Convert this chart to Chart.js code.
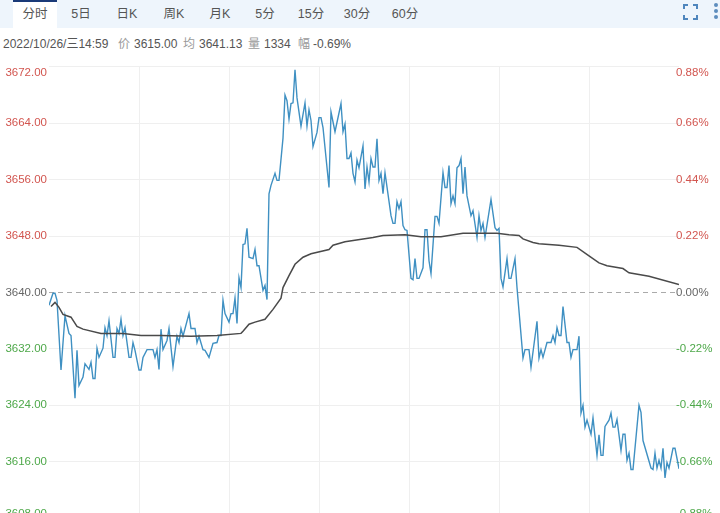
<!DOCTYPE html>
<html lang="zh">
<head>
<meta charset="UTF-8" />
<title>分时</title>
<script src="https://cdn.jsdelivr.net/npm/chart.js"></script>
<style>
  html, body { margin: 0; padding: 0; background: #fff; overflow: hidden; }
  #page {
    position: relative; width: 720px; height: 513px; overflow: hidden;
    font-family: "Liberation Sans", "Noto Sans CJK SC", sans-serif; color: #555;
  }
  #tabs { position: absolute; left: 0; top: 0; width: 720px; height: 28px; background: #eef5fc; }
  #active { position: absolute; left: 13px; top: 0; width: 44px; height: 28px; background: #fff; border-top: 2px solid #1a3a78; box-sizing: border-box; }
  .tab { position: absolute; top: 6px; font-size: 12.5px; line-height: 16px; transform: translateX(-50%); white-space: nowrap; }
  .info { position: absolute; top: 36px; font-size: 12px; line-height: 16px; white-space: nowrap; }
  .gray { color: #999; }
  #full { position: absolute; left: 683px; top: 4px; width: 15px; height: 16px; }
  .dot { position: absolute; left: 714px; width: 4px; height: 4px; border-radius: 2px; background: #5d8dbd; }
  canvas { position: absolute; left: 0; top: 57px; }
</style>
</head>
<body>
<div id="page">
  <div id="tabs"><div id="active"></div></div>
  <svg id="full" viewBox="0 0 15 16" fill="none" stroke="#4f86bd" stroke-width="2">
    <path d="M1 5V1H5M10 1H14V5M14 11V15H10M5 15H1V11" />
  </svg>
  <div class="dot" style="top: 3px"></div>
  <div class="dot" style="top: 9px"></div>
  <div class="dot" style="top: 15px"></div>
  <canvas id="chart" width="720" height="471"></canvas>
</div>
<script>
  const tabNames = ["分时", "5日", "日K", "周K", "月K", "5分", "15分", "30分", "60分"];
  const tabCenters = [35, 81, 127, 174, 220, 265, 311, 357, 405];
  const infoTexts = ["2022/10/26/三14:59", "价", "3615.00", "均", "3641.13", "量", "1334", "幅", "-0.69%"];
  const infoLefts = [3, 118, 134, 183, 199, 248, 264, 298, 313];

  const basePrice = 3640;
  const priceTicks = [3608, 3616, 3624, 3632, 3640, 3648, 3656, 3664, 3672];
  const percentTicks = [-0.88, -0.66, -0.44, -0.22, 0, 0.22, 0.44, 0.66, 0.88];
  const sampleCount = 315;
  const sampleTicks = [45, 90, 135, 180, 225, 270];

  // last price: sample number and value at each turn of the line
  const priceSamples = [
    0, 2, 3, 4, 6, 8, 10, 11, 13, 14, 15, 17, 18, 20, 21, 22, 23, 24, 25, 27, 28, 29, 30, 32, 33,
    34, 35, 36, 37, 38, 40, 41, 42, 43, 45, 46, 47, 49, 52, 53, 54, 55, 56, 57, 59, 60, 62, 64, 65,
    66, 67, 70, 71, 73, 74, 75, 77, 78, 80, 82, 84, 85, 86, 87, 88, 90, 91, 92, 93, 94, 95, 96, 97,
    98, 99, 100, 102, 103, 104, 105, 107, 108, 109, 110, 111, 113, 114, 115, 117, 118, 119, 120,
    121, 122, 123, 124, 126, 128, 129, 130, 131, 132, 134, 135, 136, 137, 140, 141, 143, 146, 147,
    148, 149, 150, 151, 152, 153, 154, 155, 157, 158, 159, 160, 161, 162, 163, 164, 165, 166, 167,
    168, 171, 172, 173, 174, 175, 176, 177, 178, 179, 181, 182, 183, 184, 185, 187, 188, 189, 190,
    191, 193, 194, 195, 197, 198, 199, 200, 201, 202, 203, 204, 205, 206, 207, 208, 209, 211, 212,
    214, 215, 216, 217, 218, 221, 223, 224, 225, 226, 227, 229, 230, 231, 233, 234, 237, 238, 240,
    241, 244, 245, 246, 247, 249, 251, 252, 253, 254, 255, 256, 257, 259, 260, 261, 262, 264, 265,
    266, 267, 268, 269, 271, 272, 274, 275, 276, 277, 278, 280, 281, 282, 283, 284, 286, 287, 288,
    289, 290, 291, 292, 295, 296, 297, 301, 302, 303, 304, 305, 306, 307, 308, 309, 310, 312, 313, 315
  ];
  const priceValues = [
    3638.2, 3639.9, 3639.9, 3638.9, 3629.0, 3636.7, 3634.2, 3633.9, 3625.0, 3631.8, 3626.8, 3628.0,
    3629.9, 3629.1, 3630.1, 3627.8, 3627.8, 3632.1, 3630.8, 3632.1, 3635.0, 3633.9, 3636.0, 3630.8,
    3630.8, 3634.9, 3634.2, 3636.2, 3633.9, 3635.0, 3630.8, 3630.8, 3632.9, 3631.8, 3629.0, 3629.0,
    3630.8, 3631.9, 3631.9, 3630.8, 3631.9, 3629.1, 3634.8, 3631.9, 3633.2, 3634.9, 3629.5, 3633.8,
    3632.9, 3634.9, 3633.8, 3637.0, 3634.9, 3634.9, 3632.9, 3633.8, 3631.9, 3631.8, 3630.8, 3632.8,
    3632.9, 3633.9, 3633.9, 3638.9, 3637.0, 3635.8, 3637.0, 3637.0, 3639.2, 3635.6, 3642.1, 3640.7,
    3646.8, 3646.9, 3649.1, 3645.0, 3644.8, 3646.1, 3643.8, 3643.8, 3640.3, 3641.0, 3639.0, 3654.0,
    3655.2, 3656.9, 3655.9, 3655.9, 3661.9, 3668.0, 3667.2, 3664.6, 3666.8, 3666.9, 3671.6, 3667.6,
    3663.6, 3666.9, 3663.6, 3665.9, 3664.4, 3660.7, 3662.7, 3664.8, 3664.8, 3663.4, 3654.9, 3665.6,
    3662.8, 3666.8, 3662.8, 3663.9, 3659.0, 3659.0, 3659.8, 3656.9, 3655.7, 3658.8, 3657.7, 3660.8,
    3654.7, 3657.8, 3655.7, 3659.0, 3657.8, 3657.8, 3661.8, 3655.9, 3656.9, 3654.0, 3657.0, 3650.9,
    3649.8, 3649.8, 3652.9, 3651.9, 3652.9, 3649.5, 3648.9, 3648.8, 3642.0, 3641.8, 3644.8, 3642.0,
    3642.0, 3643.5, 3648.9, 3648.9, 3644.5, 3642.7, 3650.8, 3650.8, 3649.8, 3657.0, 3654.9, 3654.9,
    3658.0, 3652.6, 3653.7, 3652.6, 3657.7, 3658.0, 3659.0, 3654.0, 3657.8, 3653.7, 3650.9, 3651.6,
    3647.8, 3650.9, 3648.8, 3649.8, 3647.8, 3653.2, 3649.2, 3648.8, 3649.1, 3642.0, 3640.8, 3644.8,
    3642.0, 3642.0, 3644.8, 3640.7, 3630.7, 3631.9, 3631.9, 3629.4, 3635.9, 3630.7, 3631.9, 3630.8,
    3632.9, 3632.9, 3633.9, 3632.9, 3635.0, 3633.9, 3633.9, 3638.0, 3632.9, 3632.9, 3630.8, 3631.9,
    3631.9, 3633.8, 3622.9, 3624.0, 3620.9, 3621.9, 3619.9, 3622.2, 3616.9, 3619.8, 3616.9, 3616.9,
    3621.0, 3621.9, 3622.9, 3620.9, 3620.9, 3622.0, 3617.6, 3619.9, 3619.9, 3616.2, 3617.2, 3614.9,
    3614.9, 3624.0, 3623.0, 3619.0, 3615.1, 3614.9, 3617.2, 3615.1, 3616.2, 3615.1, 3617.9, 3613.7,
    3615.9, 3615.1, 3617.9, 3617.9, 3615.0
  ];

  // running average price
  const avgSamples = [
    1, 3, 5, 7, 11, 14, 17, 26, 37, 46, 56, 71, 84, 96, 97, 100, 103, 108, 112, 116, 117, 120, 123,
    127, 131, 140, 142, 148, 162, 167, 178, 186, 196, 207, 224, 230, 235, 237, 242, 245, 255, 264,
    270, 275, 279, 287, 290, 300, 315
  ];
  const avgValues = [
    3638.0, 3638.6, 3637.9, 3636.9, 3636.5, 3635.2, 3634.8, 3634.2, 3634.2, 3633.9, 3633.9, 3633.8,
    3633.9, 3634.2, 3634.5, 3635.5, 3635.8, 3636.2, 3637.6, 3639.2, 3640.7, 3642.4, 3644.0, 3645.0,
    3645.5, 3646.1, 3646.7, 3647.2, 3647.8, 3648.1, 3648.2, 3647.9, 3647.9, 3648.4, 3648.4, 3648.2,
    3648.1, 3647.6, 3647.1, 3646.9, 3646.7, 3646.4, 3645.2, 3644.2, 3643.8, 3643.4, 3642.8, 3642.3,
    3641.13
  ];

  const page = document.getElementById("page");
  tabNames.forEach((name, i) => {
    const el = document.createElement("div");
    el.className = "tab";
    el.style.left = tabCenters[i] + "px";
    el.innerText = name;
    page.appendChild(el);
  });
  infoTexts.forEach((text, i) => {
    const el = document.createElement("div");
    el.className = text.length === 1 ? "info gray" : "info";
    el.style.left = infoLefts[i] + "px";
    el.innerText = text;
    page.appendChild(el);
  });

  const red = "#d2554f";
  const green = "#4ea84a";
  const neutral = "#666";
  const axisFont = { family: "'Liberation Sans', sans-serif", size: 11.5 };

  function upDownColor(value, middle) {
    if (value > middle) return red;
    if (value < middle) return green;
    return neutral;
  }

  // the outer labels sit inside the plot instead of centred on their grid lines,
  // and the percent labels start just left of the plot's right edge
  const edgeLabels = {
    id: "edgeLabels",
    beforeDraw(chart) {
      const area = chart.chartArea;
      [chart.scales.y, chart.scales.pct].forEach((scale) => {
        scale.getLabelItems().forEach((item) => {
          const t = item.options.translation;
          t[1] = Math.min(Math.max(t[1], area.top + 6), area.bottom - 4);
          if (scale.id === "pct") {
            item.options.textAlign = "left";
            t[0] = area.right - 3;
          }
        });
      });
    },
  };

  new Chart(document.getElementById("chart"), {
    type: "line",
    data: {
      datasets: [
        {
          data: avgSamples.map((s, i) => ({ x: s, y: avgValues[i] })),
          borderColor: "#4a4a4a",
          borderWidth: 1.5,
          pointRadius: 0,
          tension: 0,
          order: 1,
        },
        {
          data: priceSamples.map((s, i) => ({ x: s, y: priceValues[i] })),
          borderColor: "#3f90c2",
          borderWidth: 1.4,
          pointRadius: 0,
          tension: 0,
          order: 2,
        },
      ],
    },
    options: {
      responsive: false,
      animation: false,
      layout: { padding: { top: 9, bottom: 4 } },
      plugins: { legend: { display: false }, tooltip: { enabled: false } },
      scales: {
        x: {
          type: "linear",
          min: 0,
          max: sampleCount,
          afterBuildTicks: (scale) => {
            scale.ticks = sampleTicks.map((value) => ({ value }));
          },
          afterFit: (scale) => {
            scale.height = 0;
          },
          ticks: { display: false },
          border: { display: false },
          grid: { color: "#efefef", drawTicks: false },
        },
        y: {
          position: "left",
          min: priceTicks[0],
          max: priceTicks[priceTicks.length - 1],
          afterBuildTicks: (scale) => {
            scale.ticks = priceTicks.map((value) => ({ value }));
          },
          afterFit: (scale) => {
            scale.width = 49;
          },
          ticks: {
            padding: 2,
            font: axisFont,
            color: (ctx) => upDownColor(ctx.tick.value, basePrice),
            callback: (value) => value.toFixed(2),
          },
          border: {
            display: false,
            dash: (ctx) => (ctx.tick && ctx.tick.value === basePrice ? [5, 4] : []),
          },
          grid: {
            drawTicks: false,
            color: (ctx) => (ctx.tick.value === basePrice ? "#aaa" : "#efefef"),
          },
        },
        pct: {
          position: "right",
          min: percentTicks[0],
          max: percentTicks[percentTicks.length - 1],
          afterBuildTicks: (scale) => {
            scale.ticks = percentTicks.map((value) => ({ value }));
          },
          afterFit: (scale) => {
            scale.width = 41;
          },
          ticks: {
            mirror: true,
            font: axisFont,
            color: (ctx) => upDownColor(ctx.tick.value, 0),
            callback: (value) => value.toFixed(2) + "%",
          },
          border: { display: false },
          grid: { drawOnChartArea: false, drawTicks: false },
        },
      },
    },
    plugins: [edgeLabels],
  });
</script>
</body>
</html>
